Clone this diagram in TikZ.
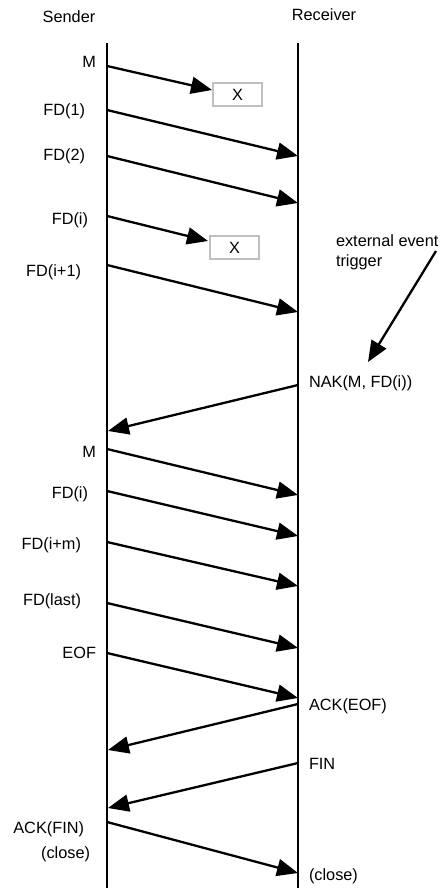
\documentclass[tikz,border=0pt]{standalone}
\usepackage{fontspec}
\setmainfont{Liberation Sans}
\usepackage{tikz}
\usetikzlibrary{arrows.meta}

\begin{document}
\begin{tikzpicture}[x=0.5pt,y=-0.5pt]
  \tikzset{LifeLineStyle/.style = {
    draw          = black,
    line width    = 1.3pt
    }
  }
  \tikzset{MsgStyle/.style = {
    draw          = black,
    line width    = 1.15pt,
    -{Triangle[length=10.5pt,width=8.5pt]}
    }
  }
  \tikzset{LabelStyle/.style = {
    text          = black,
    inner sep     = 0pt,
    outer sep     = 0pt,
    font          = \fontsize{8.15pt}{9.8pt}\selectfont
    }
  }
  \tikzset{LostBoxStyle/.style = {
    shape         = rectangle,
    draw          = black!25,
    line width    = 0.8pt,
    fill          = white,
    minimum width = 24.5pt,
    minimum height= 11.5pt,
    inner sep     = 0pt,
    font          = \fontsize{8.15pt}{9.8pt}\selectfont
    }
  }
  \useasboundingbox (0,0) rectangle (440,888);

	% lifelines
	\node[LabelStyle](Sender) at (69,17) {Sender};
	\node[LabelStyle](Receiver) at (324,15) {Receiver};
	\coordinate (STop) at (107,43);
	\coordinate (SBot) at (107,888);
	\coordinate (RTop) at (298,43);
	\coordinate (RBot) at (298,888);
	\draw[LifeLineStyle](STop) -- (SBot);
	\draw[LifeLineStyle](RTop) -- (RBot);

	% end points on the lifelines
	\coordinate (S1) at (107,66);
	\coordinate (L1) at (212,90);
	\coordinate (S2) at (107,110);
	\coordinate (R2) at (298,156);
	\coordinate (S3) at (107,156);
	\coordinate (R3) at (298,203);
	\coordinate (S4) at (107,216);
	\coordinate (L4) at (208,241);
	\coordinate (S5) at (107,265);
	\coordinate (R5) at (298,312);
	\coordinate (R6) at (298,385);
	\coordinate (S6) at (108,431);
	\coordinate (S7) at (107,449);
	\coordinate (R7) at (298,495);
	\coordinate (S8) at (107,491);
	\coordinate (R8) at (298,536);
	\coordinate (S9) at (107,542);
	\coordinate (R9) at (298,586);
	\coordinate (S10) at (107,603);
	\coordinate (R10) at (298,648);
	\coordinate (S11) at (107,653);
	\coordinate (R11) at (298,698);
	\coordinate (R12) at (298,704);
	\coordinate (S12) at (108,750);
	\coordinate (R13) at (298,763);
	\coordinate (S13) at (108,808);
	\coordinate (S14) at (107,822);
	\coordinate (R14) at (298,873);

	% lost packets
	\node[LostBoxStyle](X1) at (237.5,94.5) {X};
	\node[LostBoxStyle](X4) at (234.5,247.5) {X};

	% labels
	\node[LabelStyle,anchor=base east](LM1) at (96,68) {M};
	\node[LabelStyle,anchor=base east](LFD1) at (85,116) {FD(1)};
	\node[LabelStyle,anchor=base east](LFD2) at (85,161) {FD(2)};
	\node[LabelStyle,anchor=base east](LFDi) at (88,224) {FD(i)};
	\node[LabelStyle,anchor=base east](LFDi1) at (81,276) {FD(i+1)};
	\node[LabelStyle,anchor=base west](LNAK) at (309,387) {NAK(M, FD(i))};
	\node[LabelStyle,anchor=base east](LM7) at (96,457) {M};
	\node[LabelStyle,anchor=base east](LFDi8) at (88,498) {FD(i)};
	\node[LabelStyle,anchor=base east](LFDim) at (81,549) {FD(i+m)};
	\node[LabelStyle,anchor=base east](LFDlast) at (81,605) {FD(last)};
	\node[LabelStyle,anchor=base east](LEOF) at (96,658) {EOF};
	\node[LabelStyle,anchor=base west](LACKEOF) at (309,710) {ACK(EOF)};
	\node[LabelStyle,anchor=base west](LFIN) at (309,769) {FIN};
	\node[LabelStyle,anchor=base east](LACKFIN) at (84,833) {ACK(FIN)};
	\node[LabelStyle,anchor=base east](LCloseS) at (90,858) {(close)};
	\node[LabelStyle,anchor=base west](LCloseR) at (309,880) {(close)};

	% trigger
	\node[LabelStyle,anchor=north west,align=left](Trigger) at (336,235) {external event\\trigger};
	\coordinate (TrigStart) at (436,251);
	\coordinate (TrigEnd) at (368,362);
	\draw[MsgStyle](TrigStart) -- (TrigEnd);

	% messages
	\draw[MsgStyle](S1) -- (L1);
	\draw[MsgStyle](S2) -- (R2);
	\draw[MsgStyle](S3) -- (R3);
	\draw[MsgStyle](S4) -- (L4);
	\draw[MsgStyle](S5) -- (R5);
	\draw[MsgStyle](R6) -- (S6);
	\draw[MsgStyle](S7) -- (R7);
	\draw[MsgStyle](S8) -- (R8);
	\draw[MsgStyle](S9) -- (R9);
	\draw[MsgStyle](S10) -- (R10);
	\draw[MsgStyle](S11) -- (R11);
	\draw[MsgStyle](R12) -- (S12);
	\draw[MsgStyle](R13) -- (S13);
	\draw[MsgStyle](S14) -- (R14);

  \end{tikzpicture}
\end{document}
